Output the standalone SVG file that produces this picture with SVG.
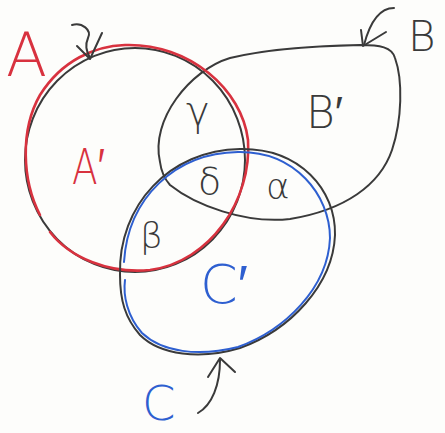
<svg xmlns="http://www.w3.org/2000/svg" width="445" height="433" viewBox="0 0 445 433">
<style>
.bg{fill:#fdfdfb}
.pen{fill:none;stroke:#3a3a3a;stroke-width:2;stroke-linecap:round;stroke-linejoin:round}
.red{fill:none;stroke:#d8323f;stroke-width:2.6;stroke-linecap:round}
.blue{fill:none;stroke:#2e5fd0;stroke-width:2;stroke-linecap:round}
.t{font-family:"DejaVu Sans",sans-serif;font-weight:200}
.tk{fill:#3a3a3a}
.tr{fill:#d8323f}
.tb{fill:#2e5fd0}
</style>
<rect class="bg" x="0" y="0" width="445" height="433"/>
<g id="setB">
<path class="pen" d="M160,162 C150,120 190,70 230,58 C270,48 320,46 360,45 C380,45 392,47 395,58 C403,80 402,120 392,150 C380,185 345,210 290,219 C245,224 195,205 170,185 C163,177 161,170 160,162 Z"/>
</g>
<g id="setA">
<ellipse class="pen" cx="135" cy="160" rx="110" ry="112"/>
<path class="red" d="M40,215 C22,180 20,130 40,95 C62,60 95,46 125,45 C190,43 242,90 248,140 C252,200 210,262 150,270 C110,274 70,258 50,232"/>
</g>
<g id="setC">
<path class="pen" d="M120,275 C118,205 170,150 240,149 C300,148 336,190 335,235 C333,285 290,330 240,348 C200,360 160,355 140,335 C125,318 120,300 120,275 Z"/>
<path class="blue" d="M124,262 C128,198 175,153 238,152 C295,151 330,195 330,238 C328,288 285,330 238,347 C198,357 162,352 142,333 C127,316 123,295 125,280"/>
</g>
<g id="connectors">
<path class="pen" d="M72,25 C82,22 92,30 88,38 C85,45 86,50 90,58"/>
<path class="pen" d="M77,46 L90,59 L102,33"/>
<path class="pen" d="M394,8 C380,8 370,22 364,45"/>
<path class="pen" d="M361,30 L363,46 L386,32"/>
<path class="pen" d="M198,413 C212,405 220,385 220,360"/>
<path class="pen" d="M208,377 L220,358 L235,372"/>
</g>
<g id="labels">
<text class="t tr" x="6" y="76" font-size="60">A</text>
<text class="t tr" x="72" y="184" font-size="50" transform="translate(72,184) scale(0.75,1) translate(-72,-184)">A′</text>
<text class="t tk" x="186" y="125" font-size="40">γ</text>
<text class="t tk" x="306" y="128" font-size="44">B′</text>
<text class="t tk" x="408" y="51" font-size="42">B</text>
<text class="t tk" x="198" y="194" font-size="38">δ</text>
<text class="t tk" x="266" y="199" font-size="36">α</text>
<text class="t tk" x="140" y="248" font-size="36">β</text>
<text class="t tb" x="200" y="303" font-size="54">C′</text>
<text class="t tb" x="142" y="420" font-size="48">C</text>
</g>
</svg>
